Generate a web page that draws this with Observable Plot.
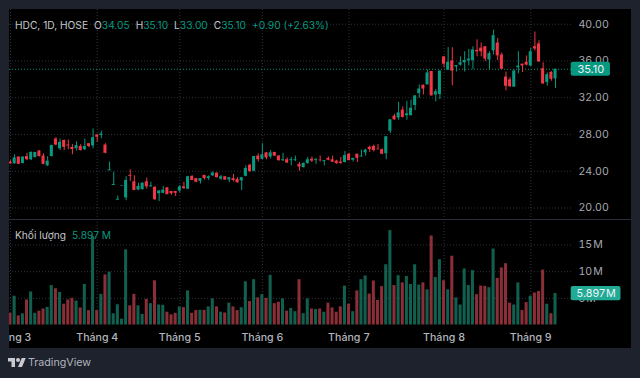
<!DOCTYPE html>
<html lang="vi">
<head>
<meta charset="utf-8">
<script src="https://cdn.jsdelivr.net/npm/d3@7"></script>
<script src="https://cdn.jsdelivr.net/npm/@observablehq/plot@0.6"></script>
<style>
html,body{margin:0;padding:0;background:#1e222d;width:640px;height:378px;overflow:hidden;font-family:Inter,"Noto Sans",sans-serif}
#pane{position:absolute;left:9px;top:9px;width:622px;height:339px;background:#000;overflow:hidden}
#pane svg{display:block;background:transparent}
#volume{position:relative}
#volume::before{content:"";position:absolute;left:0;right:0;top:0;height:1px;background:#2a2e39}
.legend{position:absolute;left:6px;font-size:10.2px;white-space:nowrap;color:#c4c6cc;line-height:14px}
.legend .v{color:#089981}
.legend .g{margin-left:6px}
#brand{position:absolute;left:8px;top:356px;display:flex;align-items:center;color:#b2b5be;font-size:10.7px;line-height:14px}
#brand svg{width:18px;height:14px;margin-right:2px;fill:#c8cad0}
</style>
</head>
<body>
<div id="pane">
  <div id="price"></div>
  <div id="volume"></div>
  <div class="legend" style="top:9px"><span>HDC, 1D, HOSE</span><span class="g">O</span><span class="v">34.05</span><span class="g">H</span><span class="v">35.10</span><span class="g">L</span><span class="v">33.00</span><span class="g">C</span><span class="v">35.10</span><span class="v g">+0.90 (+2.63%)</span></div>
  <div class="legend" style="top:219px"><span>Khối lượng</span><span class="v g">5.897 M</span></div>
</div>
<div id="brand"><svg viewBox="0 0 36 28"><path d="M14 22H7V11H0V4h14v18zM28 22h-8l7.5-18h8L28 22z"/><circle cx="20" cy="8" r="4"/></svg><span>TradingView</span></div>
<script>
const opens = [
25,24.8,25.55,24.85,25.6,25.25,25.5,26.2,25.65,24.6,
25.6,27.5,26.45,27.35,26.85,26.6,26.45,26.7,26.35,27,
26.75,27.95,27.9,26.85,24.05,22.45,20.85,22.4,21.1,23.55,
22.85,21.95,22,22.85,22.3,22.25,21.55,21.6,22.2,21.8,
21.8,21.85,22.3,22.05,23.45,23.2,22.9,23.55,23.2,23.5,
23.8,23.15,23.4,23.05,23.2,23.1,22.95,23.45,24.65,24,
25.65,25.3,26,25.55,26.05,25.65,25.15,25.25,25.15,25.15,
24.75,24.4,24.85,25.3,25.15,25.2,25.05,25.4,25.25,25.1,
25,24.95,25.85,25.2,25.85,25.55,26,26.6,26.7,26.4,
26.35,25.9,28.35,30,29.8,30.65,30.05,30.05,31.15,32.45,
33.35,33.4,34.85,32.3,32.35,36.45,35,36,35.35,35.55,
35.8,36,36.05,37.15,37.4,37.55,36.1,37.1,37.95,36.65,
34.25,33.95,33.15,35.25,35.65,35.85,35.45,37.55,37.85,35.15,
33.65,34.75,34.05];
const highs = [
25.15,25.8,25.55,25.55,25.95,26.1,26.05,26.25,25.9,25.6,
26.85,27.65,27.5,27.4,27.4,26.9,27.2,26.9,27.5,27,
28.6,27.95,28.35,27,25,23.9,21.3,22.45,23.4,24.15,
23.5,22.7,22.75,23.25,22.8,22.35,21.9,22.35,22.2,21.8,
21.8,22.45,22.8,23.45,23.5,23.2,23.2,23.55,23.5,23.95,
23.8,23.55,23.4,23.3,23.65,23.3,23.3,24.6,24.75,25.6,
25.9,27,26.05,26.25,26.05,25.7,25.95,25.45,25.5,25.65,
24.95,24.9,25.5,25.55,25.4,25.65,25.15,25.55,25.65,25.2,
25.5,26.15,25.95,25.4,25.85,26.3,26.4,26.75,26.85,26.9,
26.4,27.75,29.6,30.2,31.5,31,31.6,31.75,32.2,33.4,
33.4,35,34.85,32.9,34.9,36.45,37.45,37.45,35.5,36.45,
37,37.25,37.55,38.3,37.95,37.55,37,39.35,38.45,36.85,
34.8,34.2,35,37,35.65,36.55,37.4,39.15,38.2,35.8,
34.7,34.85,35.1];
const lows = [
24.75,24.8,24.75,24.8,25.15,25.15,25.45,25.55,24.7,24.5,
25.55,26.75,26.25,26.25,26.35,25.8,26.2,26.2,26.25,26.55,
26.45,27.15,27.55,25.9,24.05,22.45,20.85,22.4,20.8,22.9,
21.9,21.9,21.95,22.05,22.25,20.85,20.7,21.55,21.45,21.4,
21.25,21.65,22.05,22,23,22.75,22.6,23.05,23,23.45,
23.25,23,23,22.75,22.85,22.7,21.9,23.4,23.9,23.95,
25,25.25,25.25,25.35,25.6,25.1,25.05,24.85,24.6,25.05,
24,24.35,24.75,24.95,24.75,25,24.6,25.15,24.95,24.75,
24.75,24.9,25.15,25,24.95,25.55,25.65,26.05,26.1,26.3,
25.8,25.25,28.1,29.55,29.55,29.8,29.55,30,30.6,31.95,
32.3,33.4,32.2,31.55,31.8,35.25,35,33.3,34.8,35.45,
34.8,35.45,35.05,36.45,36.45,35.95,35.05,36.65,36.05,35.05,
32.75,33.1,33.15,34.6,34.75,35.45,35.4,37.1,35.85,33.45,
33.25,33.8,33];
const closes = [
24.8,25.45,24.75,25.55,25.25,26.05,26.05,25.6,24.75,25.1,
26.8,26.85,27.15,26.6,26.75,26.35,26.8,26.25,26.7,26.7,
27.65,27.7,28.05,25.95,24.15,22.55,20.95,22.45,23,23.45,
21.9,22.35,22.7,22.3,22.4,20.9,21.85,21.95,21.45,21.55,
21.6,22.3,22.1,23.4,23,22.8,23.2,23.2,23.4,23.8,
23.3,23.4,23.05,23.3,23,22.75,23.3,24.3,23.95,25.6,
25.25,25.8,25.45,26,25.65,25.15,25.25,24.9,25.25,25.25,
24.45,24.85,25.25,25.1,25.25,25.15,25.15,25.2,25,24.85,
24.85,25.7,25.15,25.4,25.4,25.65,26.3,26.35,26.25,26.35,
25.85,27.75,29.6,29.6,30.35,29.85,30.25,30.85,32.2,32.95,
32.95,34.7,32.2,32.65,34.9,35.65,35.85,34.9,35.5,35.8,
36.05,36.2,37.2,37,37,36.2,36.8,38.75,36.55,35.1,
33.25,33.2,34.9,35.45,35.45,35.55,37,37.3,35.9,33.5,
34.5,34,35.1];
const volumes = [
2.2,5.4,1.7,2.1,4.7,6.2,2.2,2.6,3,3.3,
7.4,6.8,6.1,3.9,4.7,5,4.5,3.2,7.6,2.7,
16.6,2.7,5.75,9.4,9.9,2.1,3.8,1.1,14.1,3.6,
5.75,3.6,2,4.8,4,8.3,3.75,3.7,2.4,1.9,
2.2,3.4,3.25,6.4,2.2,2.7,2.75,2.75,3.4,4.9,
3.4,2.4,2.25,4.1,3.4,2.7,3.25,8.1,4.4,8.5,
5.1,5.7,5,9.3,4,4.25,4.9,2.6,3.1,2.5,
8.5,2.1,4.9,3,2.9,3,2.4,4.1,3.2,2.4,
3.4,7.3,3.9,2.5,6.4,8.5,9.2,5.8,8.25,4.6,
7.2,11.3,17.7,7.4,9.25,7.9,9.1,7.6,11.3,7.5,
7.9,6.6,16.7,8.9,12.25,8.3,6.6,12.9,5.1,3.75,
10.5,7.4,10.2,5.7,7.3,7.25,7,14.25,8.75,10.7,
11.5,4.1,3.75,7.9,2.7,4.2,5.4,6,6.3,10.3,
3.9,2.1,5.897];
const monthIndex = [0,21,41,61,82,105,126];
const monthLabels = ["Tháng 3","Tháng 4","Tháng 5","Tháng 6","Tháng 7","Tháng 8","Tháng 9"];
const priceTicks = [20,24,28,32,36,40];
const volumeTicks = [5,10,15];
const lastClose = 35.10;
const lastVolume = 5.897;

const UP="#089981", DOWN="#f23645", UPV="#11604f", DOWNV="#8a2e37", GRID="#2f3339", AXIS="#a5a8b0";
const xDomain=[-0.242,135.87];
const rows = opens.map((o,i)=>({i,o,h:highs[i],l:lows[i],c:closes[i],v:volumes[i],up:closes[i]>=o}));
const font = {fontFamily:"Inter,'Noto Sans',sans-serif",fontSize:"10.6px"};
const HALF=0.37;

const price = Plot.plot({
  width:622,height:210,marginTop:0,marginBottom:0,marginLeft:0,marginRight:60,
  style:{...font,background:"transparent",color:AXIS},
  x:{domain:xDomain,axis:null},
  y:{domain:[18.75,41.6]},
  marks:[
    Plot.gridX(monthIndex,{stroke:GRID,strokeOpacity:1,strokeDasharray:"1,2"}),
    Plot.gridY(priceTicks,{stroke:GRID,strokeOpacity:1,strokeDasharray:"1,2"}),
    Plot.axisY(priceTicks,{anchor:"right",tickSize:0,tickPadding:7,tickFormat:d=>d.toFixed(2),label:null}),
    Plot.ruleY([lastClose],{stroke:UP,strokeDasharray:"1,2"}),
    Plot.ruleX(rows,{x:"i",y1:"l",y2:"h",stroke:d=>d.up?UP:DOWN,strokeWidth:1}),
    Plot.rect(rows,{x1:d=>d.i-HALF,x2:d=>d.i+HALF,y1:"o",y2:"c",fill:d=>d.up?UP:DOWN}),
    Plot.rect([lastClose],{x1:135.8,x2:145.3,y1:d=>d-0.76,y2:d=>d+0.76,fill:UP,rx:2}),
    Plot.text([lastClose],{x:140.55,y:d=>d,text:d=>d.toFixed(2),fill:"#f0f3fa",fontSize:11})
  ]
});
document.getElementById("price").appendChild(price);

const vol = Plot.plot({
  width:622,height:129,marginTop:0,marginBottom:23.5,marginLeft:0,marginRight:60,
  style:{...font,background:"transparent",color:AXIS},
  x:{domain:xDomain,axis:null},
  y:{domain:[0,19.79]},
  marks:[
    Plot.gridX(monthIndex,{stroke:GRID,strokeOpacity:1,strokeDasharray:"1,2"}),
    Plot.gridY(volumeTicks,{stroke:GRID,strokeOpacity:1,strokeDasharray:"1,2"}),
    Plot.axisY(volumeTicks,{anchor:"right",tickSize:0,tickPadding:7,tickFormat:d=>d+"\u200aM",label:null}),
    Plot.axisX(monthIndex,{anchor:"bottom",tickSize:0,tickPadding:8,label:null,fontWeight:500,fill:"#b2b5be",tickFormat:d=>monthLabels[monthIndex.indexOf(d)]}),
    Plot.rectY(rows,{x1:d=>d.i-HALF,x2:d=>d.i+HALF,y:"v",fill:d=>d.up?UPV:DOWNV}),
    Plot.rect([lastVolume],{x1:135.8,x2:147.85,y1:d=>d-1.33,y2:d=>d+1.33,fill:"#22ab94",rx:2}),
    Plot.text([lastVolume],{x:141.85,y:d=>d,text:d=>d.toFixed(3)+"\u200aM",fill:"#f0f3fa",fontSize:10.8})
  ]
});
document.getElementById("volume").appendChild(vol);
</script>
</body>
</html>
